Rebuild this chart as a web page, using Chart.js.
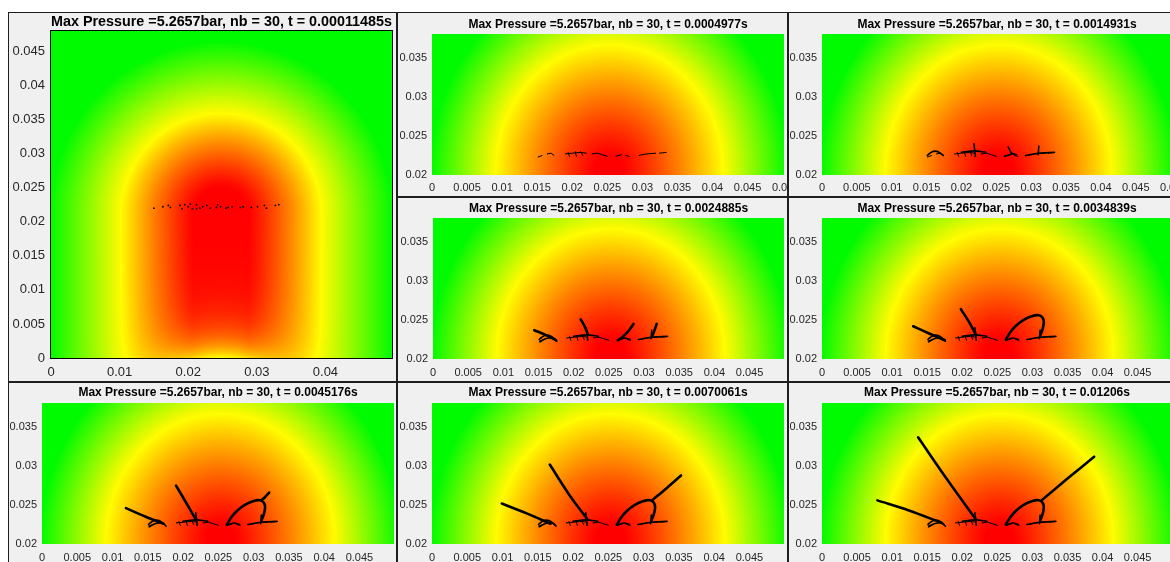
<!DOCTYPE html>
<html>
<head>
<meta charset="utf-8">
<script src="https://cdn.jsdelivr.net/npm/chart.js@4.4.1/dist/chart.umd.min.js"></script>
<style>
html, body { margin: 0; padding: 0; width: 1170px; height: 562px; overflow: hidden; background: #fff; position: relative; }
#fig { position: absolute; left: 8px; top: 12px; width: 1162px; height: 550px; background: #f0f0f0; }
canvas { position: absolute; }
.ln { position: absolute; background: #1e1e1e; z-index: 5; }
</style>
</head>
<body>
<div id="fig"></div>
<script>
// simulation frames shown in the figure
const maxPressure = '5.2657';
const nBubbles = 30;
const frameTimes = ['0.00011485', '0.0004977', '0.0014931', '0.0024885', '0.0034839', '0.0045176', '0.0070061', '0.01206'];

// tick labels
const xTicksFull = [0, 0.01, 0.02, 0.03, 0.04];
const yTicksFull = [0, 0.005, 0.01, 0.015, 0.02, 0.025, 0.03, 0.035, 0.04, 0.045];
const xTicksZoom = [0, 0.005, 0.01, 0.015, 0.02, 0.025, 0.03, 0.035, 0.04, 0.045];
const xTicksZoomTop = [0, 0.005, 0.01, 0.015, 0.02, 0.025, 0.03, 0.035, 0.04, 0.045, 0.05];
const yTicksZoom = [0.02, 0.025, 0.03, 0.035];

// pressure field: centre x, centre y, red core, yellow ring, green limit, vertical stretch
const fieldFull = [0.0248, 0.021, 0.004, 0.0147, 0.025, 0.98];
const fieldZoom = [0.0253, 0.0205, 0.002, 0.0163, 0.0255, 1.0];
// lighter spot on the bottom wall (amount, height, half width)
const wallGlow = [0.5, 0.0035, 0.01];

// the 30 initial seeds (first frame)
const seedDots = [
  [0.0150, 0.0220], [0.0163, 0.0222], [0.0171, 0.0224], [0.0174, 0.0221], [0.0188, 0.0224],
  [0.0191, 0.0219], [0.0195, 0.0225], [0.0200, 0.0222], [0.0203, 0.0226], [0.0206, 0.0219],
  [0.0212, 0.0219], [0.0212, 0.0225], [0.0217, 0.0220], [0.0221, 0.0222], [0.0227, 0.0224],
  [0.0232, 0.0220], [0.0241, 0.0221], [0.0243, 0.0225], [0.0247, 0.0222], [0.0255, 0.0220],
  [0.0258, 0.0221], [0.0264, 0.0222], [0.0276, 0.0221], [0.0280, 0.0222], [0.0292, 0.0221],
  [0.0301, 0.0222], [0.0311, 0.0224], [0.0314, 0.0220], [0.0327, 0.0224], [0.0332, 0.0225]
];

// small fractures around the seeds
const seedMarks = [
  [[0.0151, 0.0223], [0.0157, 0.0225]],
  [[0.0164, 0.0227], [0.0170, 0.0228], [0.0174, 0.0225]],
  [[0.0190, 0.0227], [0.0200, 0.0228], [0.0212, 0.0229], [0.0220, 0.0228]],
  [[0.0194, 0.0229], [0.0196, 0.0224]],
  [[0.0204, 0.0230], [0.0206, 0.0224]],
  [[0.0212, 0.0230], [0.0215, 0.0225]],
  [[0.0228, 0.0227], [0.0236, 0.0228], [0.0243, 0.0226], [0.0250, 0.0224]],
  [[0.0262, 0.0224], [0.0270, 0.0226]],
  [[0.0276, 0.0225], [0.0281, 0.0224]],
  [[0.0295, 0.0225], [0.0305, 0.0227], [0.0319, 0.0228]],
  [[0.0324, 0.0228], [0.0334, 0.0229]]
];
const rootMarks = [
  [[0.0151, 0.0225], [0.0158, 0.0230], [0.0166, 0.0230], [0.0174, 0.0225]],
  [[0.0218, 0.0240], [0.0219, 0.0232], [0.0220, 0.0224]],
  [[0.0200, 0.0229], [0.0219, 0.0231], [0.0235, 0.0229]],
  [[0.0311, 0.0237], [0.0310, 0.0226]],
  [[0.0292, 0.0225], [0.0310, 0.0228], [0.0333, 0.0229]]
];
const lambdaMarks = [
  [[0.0267, 0.0236], [0.0272, 0.0228], [0.0279, 0.0226]],
  [[0.0262, 0.0224], [0.0272, 0.0227]]
];
const hookMarks = [
  [[0.0152, 0.0222], [0.0160, 0.0226], [0.0170, 0.0227], [0.0176, 0.0223]],
  [[0.0262, 0.0224], [0.0272, 0.0227], [0.0280, 0.0225]]
];

// main fractures per frame
const cracksT4 = [
  [[0.0144, 0.0237], [0.0160, 0.0231], [0.0175, 0.0224]],
  [[0.0210, 0.0251], [0.0215, 0.0243], [0.0220, 0.0232]],
  [[0.0285, 0.0245], [0.0277, 0.0235], [0.0269, 0.0228], [0.0263, 0.0224]],
  [[0.0318, 0.0245], [0.0315, 0.0237], [0.0312, 0.0230]]
];
const arcRight = [[0.0262, 0.0225], [0.0269, 0.0235], [0.0277, 0.0243], [0.0287, 0.0250], [0.0299, 0.0255], [0.0310, 0.0256], [0.0316, 0.0250], [0.0315, 0.0240], [0.0311, 0.0230]];
const cracksT5 = [
  [[0.0130, 0.0242], [0.0152, 0.0233], [0.0175, 0.0224]],
  [[0.0198, 0.0264], [0.0210, 0.0247], [0.0219, 0.0232]],
  arcRight
];
const cracksT6 = [
  [[0.0119, 0.0246], [0.0147, 0.0235], [0.0172, 0.0226]],
  [[0.0190, 0.0275], [0.0205, 0.0252], [0.0219, 0.0230]],
  arcRight,
  [[0.0311, 0.0256], [0.0316, 0.0260], [0.0322, 0.0266]]
];
const cracksT7 = [
  [[0.0099, 0.0252], [0.0135, 0.0239], [0.0168, 0.0226]],
  [[0.0167, 0.0302], [0.0194, 0.0264], [0.0220, 0.0232]],
  arcRight,
  [[0.0312, 0.0256], [0.0333, 0.0272], [0.0353, 0.0288]]
];
const cracksT8 = [
  [[0.0079, 0.0256], [0.0124, 0.0243], [0.0171, 0.0227]],
  [[0.0137, 0.0337], [0.0179, 0.0282], [0.0219, 0.0232]],
  arcRight,
  [[0.0313, 0.0256], [0.0350, 0.0284], [0.0388, 0.0312]]
];

const FONT = "'Liberation Sans', Arial, sans-serif";
const rootsLate = rootMarks.concat(hookMarks);

// layout of the eight axes: canvas box [l,t,w,h], plot rect [x0,y0,x1,y1], title centre y
const panels = [
  { box: [9, 13, 387, 368], plot: [51, 31, 395, 358], titleY: 21, tSize: 14.4, kSize: 13, pads: [6, 7],
    xMax: 0.0497, yMin: 0, yMax: 0.048, xt: xTicksFull, yt: yTicksFull, field: fieldFull, glow: wallGlow,
    dots: seedDots, thin: [], mid: [], thick: [], framed: true },
  { box: [398, 13, 389, 183], plot: [432, 34, 784, 175], titleY: 25, tSize: 12, kSize: 11, pads: [5, 6],
    xMax: 0.0502, yMin: 0.02, yMax: 0.0381, xt: xTicksZoomTop, yt: yTicksZoom, field: fieldZoom,
    thin: seedMarks, mid: [], thick: [] },
  { box: [789, 13, 390, 183], plot: [822, 34, 1172, 175], titleY: 25, tSize: 12, kSize: 11, pads: [5, 6],
    xMax: 0.0502, yMin: 0.02, yMax: 0.0381, xt: xTicksZoomTop, yt: yTicksZoom, field: fieldZoom,
    thin: seedMarks, mid: rootMarks.concat(lambdaMarks), thick: [] },
  { box: [398, 198, 389, 183], plot: [433, 218, 784, 359], titleY: 209, tSize: 12, kSize: 11, pads: [5, 7],
    xMax: 0.0499, yMin: 0.02, yMax: 0.0381, xt: xTicksZoom, yt: yTicksZoom, field: fieldZoom,
    thin: seedMarks, mid: rootsLate, thick: cracksT4 },
  { box: [789, 198, 390, 183], plot: [822, 218, 1172, 359], titleY: 209, tSize: 12, kSize: 11, pads: [5, 7],
    xMax: 0.0499, yMin: 0.02, yMax: 0.0381, xt: xTicksZoom, yt: yTicksZoom, field: fieldZoom,
    thin: seedMarks, mid: rootsLate, thick: cracksT5 },
  { box: [9, 383, 387, 190], plot: [42, 403, 394, 544], titleY: 393, tSize: 12, kSize: 11, pads: [5, 7],
    xMax: 0.0499, yMin: 0.02, yMax: 0.0381, xt: xTicksZoom, yt: yTicksZoom, field: fieldZoom,
    thin: seedMarks, mid: rootsLate, thick: cracksT6 },
  { box: [398, 383, 389, 190], plot: [432, 403, 784, 544], titleY: 393, tSize: 12, kSize: 11, pads: [5, 7],
    xMax: 0.0499, yMin: 0.02, yMax: 0.0381, xt: xTicksZoom, yt: yTicksZoom, field: fieldZoom,
    thin: seedMarks, mid: rootsLate, thick: cracksT7 },
  { box: [789, 383, 390, 190], plot: [822, 403, 1172, 544], titleY: 393, tSize: 12, kSize: 11, pads: [5, 7],
    xMax: 0.0499, yMin: 0.02, yMax: 0.0381, xt: xTicksZoom, yt: yTicksZoom, field: fieldZoom,
    thin: seedMarks, mid: rootsLate, thick: cracksT8 }
];

function pressure(x, y, f, glow) {
  const dx = x - f[0];
  const dy = y > f[1] ? (y - f[1]) * f[5] : 0;
  const d = Math.hypot(dx, dy);
  let v;
  if (d <= f[2]) v = 1;
  else if (d <= f[3]) v = 1 - 0.5 * Math.pow((d - f[2]) / (f[3] - f[2]), 1.15);
  else if (d <= f[4]) v = 0.5 - 0.5 * (d - f[3]) / (f[4] - f[3]);
  else v = 0;
  if (glow) v *= 1 - glow[0] * Math.exp(-y / glow[1]) * Math.exp(-((dx / glow[2]) ** 2));
  return v;
}

function heatPlugin(p) {
  return {
    id: 'heat',
    beforeDatasetsDraw(chart) {
      const { ctx, chartArea: a, scales } = chart;
      const L = Math.round(a.left), T = Math.round(a.top);
      const W = Math.round(a.right) - L, H = Math.round(a.bottom) - T;
      const img = ctx.createImageData(W, H);
      for (let j = 0; j < H; j++) {
        const yv = scales.y.getValueForPixel(T + j + 0.5);
        for (let i = 0; i < W; i++) {
          const xv = scales.x.getValueForPixel(L + i + 0.5);
          const v = pressure(xv, yv, p.field, p.glow);
          const k = (j * W + i) * 4;
          if (v >= 0.5) { img.data[k] = 255; img.data[k + 1] = 510 * (1 - v); }
          else { img.data[k] = 510 * v; img.data[k + 1] = 250; }
          img.data[k + 2] = 0;
          img.data[k + 3] = 255;
        }
      }
      ctx.putImageData(img, L, T);
    },
    afterDraw(chart) {
      if (!p.framed) return;
      const { ctx, chartArea: a } = chart;
      ctx.save();
      ctx.strokeStyle = '#000';
      ctx.lineWidth = 1;
      ctx.strokeRect(Math.round(a.left) - 0.5, Math.round(a.top) - 0.5, Math.round(a.right - a.left) + 1, Math.round(a.bottom - a.top) + 1);
      ctx.restore();
    }
  };
}

const fmt = v => String(Math.round(v * 1e4) / 1e4);
const toPts = path => path.map(([x, y]) => ({ x, y }));
function lineSets(paths, w, tension) {
  return paths.map(path => ({
    data: toPts(path), showLine: true, borderColor: '#000', borderWidth: w,
    pointRadius: 0, tension: tension, borderCapStyle: 'round', borderJoinStyle: 'round'
  }));
}

panels.forEach((p, i) => {
  const [bl, bt, bw, bh] = p.box;
  const [x0, y0, x1, y1] = p.plot;
  const c = document.createElement('canvas');
  c.width = bw; c.height = bh;
  c.style.left = bl + 'px'; c.style.top = bt + 'px';
  c.style.width = bw + 'px'; c.style.height = bh + 'px';
  document.body.appendChild(c);

  const lh = p.tSize * 1.2;
  const padTop = Math.max(0, p.titleY - bt - lh / 2);
  const padBottom = (y0 - bt) - padTop - lh;

  let datasets = [];
  if (p.dots) datasets.push({ data: toPts(p.dots), pointRadius: 0.9, pointBackgroundColor: '#000', pointBorderWidth: 0, showLine: false });
  datasets = datasets.concat(lineSets(p.thin, 1, 0), lineSets(p.mid, 1.6, 0.3), lineSets(p.thick, 2.6, 0.35));

  new Chart(c, {
    type: 'scatter',
    data: { datasets },
    options: {
      responsive: false,
      animation: false,
      events: [],
      layout: { padding: { left: 0, top: 0, bottom: 0, right: bl + bw - x1 } },
      plugins: {
        legend: { display: false },
        tooltip: { enabled: false },
        title: {
          display: true, fullSize: false, color: '#000',
          text: 'Max Pressure =' + maxPressure + 'bar, nb = ' + nBubbles + ', t = ' + frameTimes[i] + 's',
          font: { family: FONT, size: p.tSize, weight: 'bold' },
          padding: { top: padTop, bottom: padBottom }
        }
      },
      scales: {
        x: {
          type: 'linear', min: 0, max: p.xMax,
          grid: { display: false, drawTicks: false }, border: { display: false },
          ticks: { padding: p.pads[1], color: '#262626', font: { family: FONT, size: p.kSize }, maxRotation: 0, autoSkip: false, callback: fmt },
          afterBuildTicks: s => { s.ticks = p.xt.map(v => ({ value: v })); },
          afterFit: s => { s.height = bt + bh - y1; s.paddingLeft = 0; s.paddingRight = 0; }
        },
        y: {
          type: 'linear', min: p.yMin, max: p.yMax,
          grid: { display: false, drawTicks: false }, border: { display: false },
          ticks: { padding: p.pads[0], color: '#262626', font: { family: FONT, size: p.kSize }, autoSkip: false, callback: fmt },
          afterBuildTicks: s => { s.ticks = p.yt.map(v => ({ value: v })); },
          afterFit: s => { s.width = x0 - bl; s.paddingTop = 0; s.paddingBottom = 0; }
        }
      }
    },
    plugins: [heatPlugin(p)]
  });
});

// figure frame lines
[[8, 12, 1162, 1], [8, 12, 1, 550], [396, 12, 2, 550], [787, 12, 2, 550], [396, 196, 774, 2], [8, 381, 1162, 2]].forEach(([l, t, w, h]) => {
  const d = document.createElement('div');
  d.className = 'ln';
  d.style.left = l + 'px'; d.style.top = t + 'px'; d.style.width = w + 'px'; d.style.height = h + 'px';
  document.body.appendChild(d);
});
</script>
</body>
</html>
